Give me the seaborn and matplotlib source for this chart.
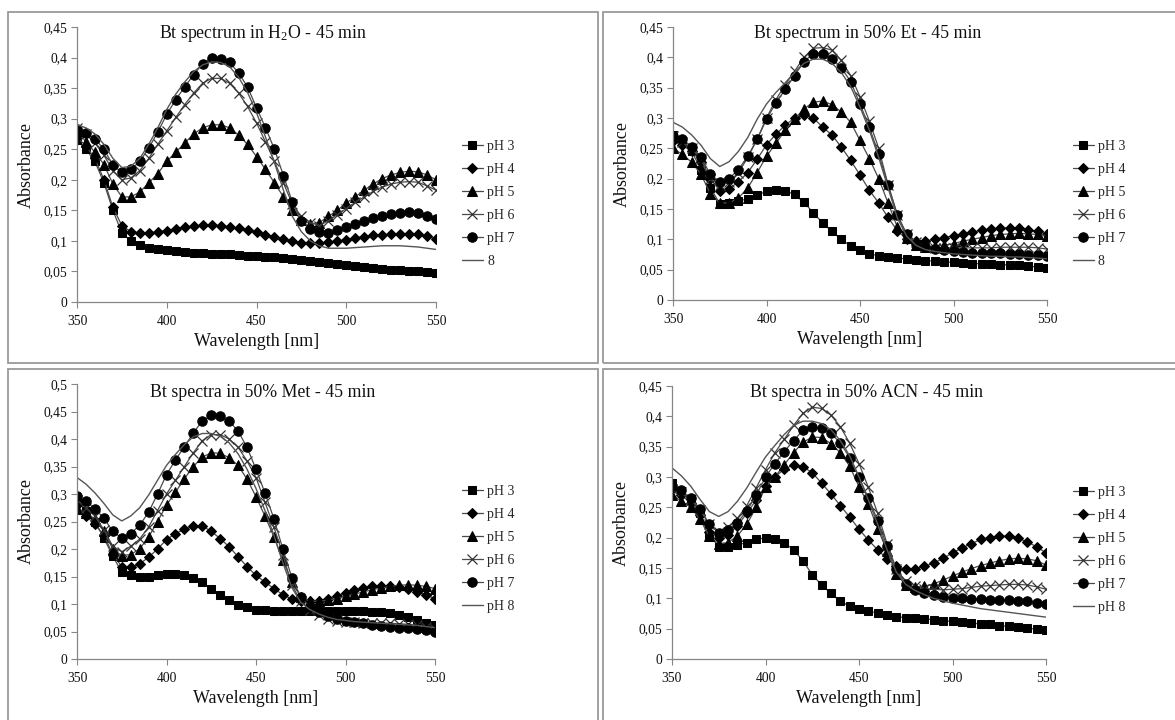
import matplotlib
matplotlib.use("Agg")
import matplotlib.pyplot as plt
import seaborn as sns
import pandas as pd
from matplotlib.patches import Rectangle

# ---------------- data ----------------
wavelength = list(range(350, 555, 5))

# Panel 1: H2O
h2o_ph3 = [0.265,0.25,0.23,0.195,0.15,0.113,0.1,0.093,0.089,0.086,0.085,0.083,0.082,0.081,0.08,0.079,0.078,0.078,0.077,0.076,0.075,0.074,0.073,0.072,0.071,0.069,0.067,0.066,0.064,0.062,0.061,0.059,0.057,0.056,0.054,0.053,0.052,0.051,0.05,0.049,0.048]
h2o_ph4 = [0.27,0.255,0.235,0.2,0.155,0.125,0.115,0.113,0.113,0.115,0.117,0.12,0.122,0.124,0.126,0.126,0.125,0.123,0.121,0.118,0.114,0.11,0.107,0.103,0.1,0.097,0.096,0.096,0.098,0.1,0.102,0.105,0.107,0.109,0.11,0.111,0.112,0.112,0.111,0.108,0.103]
h2o_ph5 = [0.28,0.262,0.245,0.225,0.193,0.172,0.172,0.18,0.195,0.21,0.23,0.245,0.26,0.275,0.285,0.29,0.29,0.285,0.273,0.258,0.238,0.217,0.195,0.172,0.15,0.135,0.128,0.13,0.14,0.15,0.162,0.172,0.183,0.193,0.202,0.208,0.212,0.214,0.213,0.208,0.2]
h2o_ph6 = [0.285,0.275,0.26,0.24,0.215,0.2,0.203,0.215,0.235,0.258,0.28,0.302,0.323,0.342,0.358,0.366,0.366,0.358,0.342,0.32,0.293,0.262,0.23,0.195,0.16,0.14,0.13,0.125,0.133,0.143,0.153,0.163,0.172,0.181,0.188,0.193,0.196,0.197,0.196,0.19,0.183]
h2o_ph7 = [0.283,0.277,0.267,0.25,0.224,0.212,0.217,0.23,0.252,0.278,0.307,0.331,0.352,0.372,0.39,0.4,0.398,0.392,0.375,0.352,0.318,0.285,0.25,0.207,0.163,0.133,0.12,0.114,0.113,0.118,0.123,0.128,0.133,0.137,0.141,0.144,0.146,0.147,0.146,0.141,0.136]
h2o_ph8 = [0.29,0.285,0.275,0.258,0.235,0.22,0.222,0.235,0.258,0.285,0.315,0.34,0.36,0.377,0.388,0.393,0.392,0.385,0.368,0.343,0.31,0.27,0.228,0.183,0.14,0.115,0.1,0.092,0.088,0.088,0.088,0.089,0.09,0.091,0.092,0.092,0.092,0.091,0.09,0.088,0.086]

# Panel 2: 50% Et
et_ph3 = [0.272,0.262,0.245,0.215,0.185,0.159,0.16,0.163,0.167,0.173,0.179,0.181,0.18,0.174,0.161,0.144,0.127,0.113,0.1,0.089,0.082,0.076,0.073,0.071,0.069,0.068,0.066,0.065,0.064,0.063,0.062,0.061,0.06,0.06,0.059,0.058,0.058,0.057,0.056,0.054,0.052]
et_ph4 = [0.262,0.255,0.245,0.228,0.2,0.18,0.183,0.195,0.21,0.232,0.256,0.273,0.288,0.3,0.305,0.3,0.285,0.272,0.252,0.23,0.206,0.181,0.16,0.136,0.114,0.1,0.097,0.097,0.1,0.103,0.106,0.109,0.112,0.115,0.117,0.118,0.119,0.118,0.116,0.113,0.109]
et_ph5 = [0.25,0.24,0.227,0.207,0.175,0.16,0.16,0.168,0.185,0.21,0.237,0.258,0.28,0.298,0.315,0.326,0.328,0.322,0.31,0.293,0.263,0.233,0.2,0.16,0.12,0.103,0.09,0.088,0.089,0.09,0.093,0.097,0.1,0.103,0.106,0.108,0.109,0.11,0.109,0.108,0.106]
et_ph6 = [0.27,0.26,0.25,0.232,0.2,0.19,0.195,0.21,0.235,0.265,0.3,0.33,0.355,0.377,0.4,0.415,0.416,0.412,0.395,0.37,0.335,0.295,0.25,0.19,0.14,0.108,0.095,0.088,0.086,0.086,0.086,0.086,0.086,0.086,0.086,0.087,0.087,0.087,0.087,0.086,0.084]
et_ph7 = [0.27,0.265,0.253,0.235,0.207,0.195,0.2,0.215,0.237,0.265,0.298,0.325,0.347,0.37,0.393,0.406,0.405,0.398,0.383,0.36,0.323,0.285,0.24,0.19,0.14,0.108,0.093,0.087,0.084,0.082,0.08,0.079,0.078,0.077,0.077,0.077,0.076,0.076,0.075,0.074,0.073]
et_ph8 = [0.293,0.285,0.272,0.255,0.233,0.22,0.228,0.245,0.268,0.298,0.323,0.342,0.358,0.375,0.39,0.397,0.397,0.39,0.375,0.352,0.318,0.28,0.235,0.185,0.135,0.105,0.09,0.083,0.08,0.078,0.076,0.075,0.074,0.073,0.072,0.072,0.071,0.071,0.07,0.069,0.068]

# Panel 3: 50% Met
met_ph3 = [0.29,0.27,0.25,0.22,0.187,0.158,0.152,0.15,0.15,0.153,0.155,0.155,0.153,0.148,0.14,0.127,0.116,0.108,0.099,0.095,0.09,0.089,0.088,0.088,0.088,0.088,0.088,0.088,0.088,0.088,0.088,0.088,0.087,0.086,0.085,0.083,0.08,0.076,0.071,0.066,0.062]
met_ph4 = [0.28,0.26,0.245,0.225,0.19,0.168,0.167,0.173,0.185,0.2,0.217,0.228,0.236,0.241,0.242,0.232,0.219,0.204,0.186,0.168,0.152,0.14,0.128,0.117,0.109,0.106,0.105,0.106,0.11,0.115,0.12,0.125,0.129,0.132,0.133,0.133,0.131,0.127,0.122,0.116,0.11]
met_ph5 = [0.272,0.265,0.255,0.232,0.2,0.188,0.19,0.2,0.222,0.25,0.28,0.303,0.328,0.35,0.367,0.375,0.374,0.366,0.352,0.327,0.295,0.26,0.222,0.18,0.14,0.113,0.105,0.105,0.107,0.11,0.114,0.118,0.122,0.126,0.129,0.132,0.134,0.135,0.134,0.132,0.128]
met_ph6 = [0.29,0.275,0.26,0.235,0.205,0.195,0.205,0.218,0.24,0.27,0.3,0.325,0.35,0.375,0.397,0.408,0.408,0.4,0.385,0.36,0.33,0.285,0.24,0.19,0.135,0.105,0.09,0.08,0.073,0.07,0.068,0.067,0.066,0.065,0.065,0.065,0.064,0.063,0.061,0.058,0.055]
met_ph7 = [0.296,0.287,0.273,0.256,0.232,0.22,0.228,0.243,0.267,0.3,0.335,0.362,0.386,0.411,0.433,0.443,0.441,0.433,0.414,0.385,0.345,0.302,0.255,0.2,0.148,0.113,0.095,0.085,0.078,0.073,0.07,0.067,0.065,0.062,0.06,0.058,0.057,0.056,0.055,0.053,0.05]
met_ph8 = [0.33,0.318,0.302,0.283,0.262,0.251,0.26,0.275,0.298,0.325,0.352,0.372,0.39,0.404,0.41,0.41,0.405,0.393,0.373,0.345,0.31,0.27,0.225,0.175,0.13,0.103,0.09,0.082,0.076,0.072,0.07,0.068,0.067,0.066,0.065,0.064,0.063,0.062,0.061,0.059,0.057]

# Panel 4: 50% ACN
acn_ph3 = [0.29,0.277,0.262,0.24,0.205,0.185,0.185,0.188,0.192,0.197,0.2,0.198,0.192,0.18,0.162,0.139,0.122,0.108,0.095,0.087,0.082,0.079,0.076,0.073,0.07,0.068,0.067,0.066,0.065,0.063,0.062,0.061,0.059,0.058,0.057,0.055,0.054,0.053,0.051,0.049,0.047]
acn_ph4 = [0.28,0.27,0.257,0.238,0.21,0.2,0.205,0.22,0.24,0.262,0.285,0.3,0.313,0.32,0.317,0.307,0.29,0.272,0.253,0.234,0.214,0.196,0.18,0.165,0.153,0.148,0.149,0.153,0.158,0.166,0.175,0.183,0.19,0.197,0.2,0.203,0.202,0.199,0.193,0.185,0.175]
acn_ph5 = [0.27,0.26,0.25,0.23,0.202,0.19,0.192,0.203,0.222,0.25,0.283,0.3,0.32,0.34,0.357,0.366,0.365,0.355,0.34,0.318,0.284,0.255,0.215,0.178,0.14,0.122,0.118,0.12,0.124,0.13,0.137,0.143,0.149,0.154,0.158,0.162,0.165,0.166,0.165,0.162,0.155]
acn_ph6 = [0.28,0.275,0.263,0.245,0.222,0.21,0.218,0.232,0.253,0.282,0.312,0.34,0.362,0.385,0.405,0.415,0.413,0.402,0.383,0.356,0.322,0.283,0.24,0.19,0.148,0.128,0.12,0.116,0.115,0.114,0.115,0.116,0.118,0.12,0.121,0.122,0.123,0.123,0.122,0.119,0.115]
acn_ph7 = [0.285,0.278,0.265,0.248,0.222,0.208,0.212,0.225,0.244,0.27,0.3,0.322,0.342,0.36,0.377,0.383,0.38,0.372,0.356,0.332,0.3,0.265,0.228,0.186,0.148,0.123,0.113,0.108,0.105,0.103,0.101,0.1,0.099,0.099,0.098,0.098,0.097,0.096,0.095,0.093,0.09]
acn_ph8 = [0.315,0.302,0.285,0.263,0.243,0.235,0.243,0.26,0.282,0.308,0.333,0.352,0.37,0.385,0.392,0.392,0.388,0.378,0.36,0.335,0.3,0.262,0.222,0.18,0.143,0.123,0.113,0.106,0.1,0.096,0.092,0.089,0.086,0.083,0.081,0.079,0.077,0.075,0.073,0.071,0.069]

titles = [r"Bt spectrum in H$_{2}$O - 45 min", "Bt spectrum in 50% Et - 45 min",
          "Bt spectra in 50% Met - 45 min", "Bt spectra in 50% ACN - 45 min"]
labels_a = ["pH 3", "pH 4", "pH 5", "pH 6", "pH 7", "8"]
labels_b = ["pH 3", "pH 4", "pH 5", "pH 6", "pH 7", "pH 8"]
yticks_45 = [0, 0.05, 0.1, 0.15, 0.2, 0.25, 0.3, 0.35, 0.4, 0.45]
yticks_50 = [0, 0.05, 0.1, 0.15, 0.2, 0.25, 0.3, 0.35, 0.4, 0.45, 0.5]
xticks = [350, 400, 450, 500, 550]

panels = [
    (titles[0], [h2o_ph3, h2o_ph4, h2o_ph5, h2o_ph6, h2o_ph7, h2o_ph8], labels_a, yticks_45),
    (titles[1], [et_ph3, et_ph4, et_ph5, et_ph6, et_ph7, et_ph8], labels_a, yticks_45),
    (titles[2], [met_ph3, met_ph4, met_ph5, met_ph6, met_ph7, met_ph8], labels_b, yticks_50),
    (titles[3], [acn_ph3, acn_ph4, acn_ph5, acn_ph6, acn_ph7, acn_ph8], labels_b, yticks_45),
]

# ---------------- style ----------------
sns.set_theme(style="white")
plt.rcParams["font.family"] = ["Liberation Serif", "DejaVu Serif"]
plt.rcParams["mathtext.fontset"] = "custom"
plt.rcParams["mathtext.rm"] = "Liberation Serif"
plt.rcParams["mathtext.it"] = "Liberation Serif:italic"

W, H = 1175, 720
fig = plt.figure(figsize=(W / 100, H / 100), dpi=100)

# panel frames (pixels: x0, y0_top, x1, y1_bottom)
frames = [(8, 12, 598, 363), (603, 12, 1180, 363), (8, 369, 598, 725), (603, 369, 1180, 725)]
for x0, y0, x1, y1 in frames:
    fig.patches.append(Rectangle((x0 / W, 1 - y1 / H), (x1 - x0) / W, (y1 - y0) / H,
                                 transform=fig.transFigure, fill=False,
                                 edgecolor="#9a9a9a", linewidth=1.3))

# axes pixel boxes: left, right, top, bottom
axboxes = [(77, 436, 27, 302), (673, 1047, 27, 300), (77, 435, 384, 659), (672, 1046, 386, 659)]
title_pos = [(263, 33), (868, 33), (263, 393), (867, 393)]
legend_pos = [(462, 204), (1073, 204), (462, 549), (1073, 550)]

markers = ["s", "D", "^", "x", "o", None]
msizes = [5.4, 5.0, 6.6, 7.0, 6.8, 0]
line_col = "#4a4a4a"

for (title, series, labels, yt), (l, r, t, b), (tx, ty), (lx, ly) in zip(panels, axboxes, title_pos, legend_pos):
    ax = fig.add_axes([l / W, 1 - b / H, (r - l) / W, (b - t) / H])
    for vals, lab, mk, ms in zip(series, labels, markers, msizes):
        assert len(vals) == len(wavelength), (title, lab, len(vals))
        df = pd.DataFrame({"Wavelength": wavelength, "Absorbance": vals})
        if mk is None:
            sns.lineplot(data=df, x="Wavelength", y="Absorbance", ax=ax, color="#555555",
                         linewidth=1.0, label=lab)
        else:
            kw = dict(markerfacecolor="black", markeredgecolor="black")
            if mk == "x":
                kw = dict(markeredgecolor="#333333", markeredgewidth=0.9)
            sns.lineplot(data=df, x="Wavelength", y="Absorbance", ax=ax, color=line_col,
                         linewidth=0.9, marker=mk, markersize=ms, label=lab, **kw)
    ax.set_xlim(350, 550)
    ax.set_ylim(0, yt[-1])
    ax.set_xticks(xticks)
    ax.set_xticklabels([str(v) for v in xticks])
    ax.set_yticks(yt)
    ax.set_yticklabels([("%g" % v).replace(".", ",") for v in yt])
    ax.tick_params(axis="both", which="major", direction="out", length=4, width=0.8,
                   color="#868686", labelsize=9.8, labelcolor="#111111", pad=3,
                   bottom=True, left=True)
    ax.tick_params(axis="x", pad=5)
    for side in ["top", "right"]:
        ax.spines[side].set_visible(False)
    for side in ["left", "bottom"]:
        ax.spines[side].set_color("#868686")
        ax.spines[side].set_linewidth(0.9)
    ax.set_facecolor("none")
    ax.set_xlabel("Wavelength [nm]", fontsize=13, color="#111111", labelpad=4)
    ax.set_ylabel("Absorbance", fontsize=13, color="#111111", labelpad=6)
    ax.grid(False)
    fig.text(tx / W, 1 - ty / H, title, ha="center", va="center", fontsize=12.8, color="#111111")
    ax.legend(loc="center left", bbox_to_anchor=(lx / W, 1 - ly / H),
              bbox_transform=fig.transFigure, frameon=False, fontsize=10,
              handlelength=1.5, handletextpad=0.3, labelspacing=0.72,
              borderpad=0, borderaxespad=0, numpoints=1)

fig.savefig("out.png", dpi=100)
